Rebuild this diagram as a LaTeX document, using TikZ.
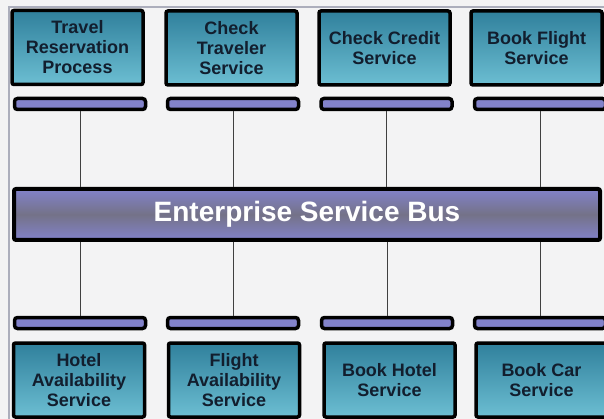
\documentclass[tikz,border=0pt]{standalone}
\usepackage{fontspec}
\setmainfont{Liberation Sans}
\usetikzlibrary{calc, positioning}

\definecolor{pagebg}{RGB}{243,243,244}
\definecolor{frameline}{RGB}{172,174,188}
\definecolor{tealtop}{RGB}{48,128,156}
\definecolor{tealbot}{RGB}{108,190,210}
\definecolor{lavender}{RGB}{130,130,202}
\definecolor{busgray}{RGB}{116,114,136}
\definecolor{ink}{RGB}{18,30,46}

\begin{document}
\begin{tikzpicture}[x=1pt, y=-1pt, every node/.style={font=\bfseries}]
  \tikzset{svc/.style={draw, line width=3.5pt, rounded corners=2pt, top color=tealtop, bottom color=tealbot, minimum width=131pt, minimum height=74pt, inner sep=0pt, align=center, text=ink, font=\fontsize{18}{20}\bfseries\selectfont},
    port/.style={draw, line width=3.5pt, rounded corners=3pt, fill=lavender, minimum width=131pt, minimum height=11pt, inner sep=0pt},
    wire/.style={draw=black!75, line width=0.9pt}}
  \fill[pagebg] (0,0) rectangle (604,419);
  \useasboundingbox (0,0) rectangle (604,419);
  \draw[frameline, line width=1.2pt] (9,419) -- (9,7) -- (604,7);

  % service boxes on top, each with its port bar
  \node[svc] (trp) at (77.5,47.5) {Travel\\Reservation\\Process};
  \node[svc] (ctv) at (231.5,48) {Check\\Traveler\\Service};
  \node[svc] (ccs) at (384.5,48) {Check Credit\\Service};
  \node[svc] (bfs) at (536.5,48) {Book Flight\\Service};
  \node[port] (trpbar) at (80,104) {};
  \node[port] (ctvbar) at (233,104) {};
  \node[port] (ccsbar) at (386.5,104) {};
  \node[port] (bfsbar) at (540,104) {};

  \node[draw, line width=4pt, rounded corners=2pt, top color=lavender, bottom color=lavender, middle color=busgray, minimum width=586pt, minimum height=51pt, text=white, font=\fontsize{28}{32}\bfseries\selectfont] (esb) at (307,214.5) {Enterprise Service Bus};

  % service boxes below the bus
  \node[port] (havbar) at (80,323) {};
  \node[port] (favbar) at (233,323) {};
  \node[port] (bhsbar) at (387,323) {};
  \node[port] (bcsbar) at (540,323) {};
  \node[svc] (hav) at (79,380) {Hotel\\Availability\\Service};
  \node[svc] (fav) at (234,380) {Flight\\Availability\\Service};
  \node[svc] (bhs) at (389.5,380) {Book Hotel\\Service};
  \node[svc] (bcs) at (541.5,380) {Book Car\\Service};

  \draw[wire] (trpbar.south) -- (trpbar.south |- esb.north);
  \draw[wire] (ctvbar.south) -- (ctvbar.south |- esb.north);
  \draw[wire] (ccsbar.south) -- (ccsbar.south |- esb.north);
  \draw[wire] (bfsbar.south) -- (bfsbar.south |- esb.north);
  \draw[wire] (havbar.north) -- (havbar.north |- esb.south);
  \draw[wire] (favbar.north) -- (favbar.north |- esb.south);
  \draw[wire] (bhsbar.north) -- (bhsbar.north |- esb.south);
  \draw[wire] (bcsbar.north) -- (bcsbar.north |- esb.south);
\end{tikzpicture}
\end{document}
